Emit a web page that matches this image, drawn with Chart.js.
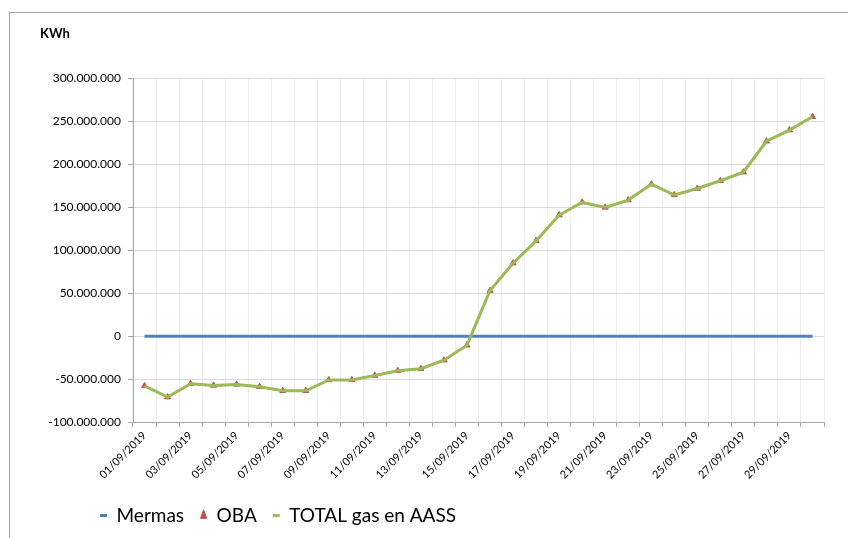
<!DOCTYPE html>
<html>
<head>
<meta charset="utf-8">
<script src="https://cdn.jsdelivr.net/npm/chart.js@4/dist/chart.umd.min.js"></script>
<style>
  html, body { margin: 0; padding: 0; background: #fff; }
  #wrap { position: relative; width: 848px; height: 538px; overflow: hidden; }
  #frame { position: absolute; left: 9px; top: 12px; width: 900px; height: 600px; border-left: 1px solid #a6a6a6; border-top: 1px solid #a6a6a6; }
  #chart { position: absolute; left: 0; top: 0; }
</style>
</head>
<body>
<div id="wrap">
  <div id="frame"></div>
  <canvas id="chart" width="848" height="538"></canvas>
</div>
<script>
// days of september 2019
const dates = ['01/09/2019','02/09/2019','03/09/2019','04/09/2019','05/09/2019','06/09/2019','07/09/2019','08/09/2019','09/09/2019','10/09/2019',
  '11/09/2019','12/09/2019','13/09/2019','14/09/2019','15/09/2019','16/09/2019','17/09/2019','18/09/2019','19/09/2019','20/09/2019',
  '21/09/2019','22/09/2019','23/09/2019','24/09/2019','25/09/2019','26/09/2019','27/09/2019','28/09/2019','29/09/2019','30/09/2019'];

const mermas = [0,0,0,0,0,0,0,0,0,0, 0,0,0,0,0,0,0,0,0,0, 0,0,0,0,0,0,0,0,0,0];

const oba = [-58000000,-71000000,-55500000,-57400000,-56200000,-59000000,-63600000,-63600000,-51000000,-51000000,
  -45800000,-40300000,-38000000,-28000000,-10500000,53000000,85000000,111000000,141000000,156000000,
  150000000,158500000,177000000,164500000,172000000,181000000,191000000,227000000,240000000,255500000];

const totalAass = [-58000000,-71000000,-55500000,-57400000,-56200000,-59000000,-63600000,-63600000,-51000000,-51000000,
  -45800000,-40300000,-38000000,-28000000,-10500000,53000000,85000000,111000000,141000000,156000000,
  150000000,158500000,177000000,164500000,172000000,181000000,191000000,227000000,240000000,255500000];

const yMin = -100000000;
const yMax = 300000000;
const yStep = 50000000;

function formatNum(v) {
    let s = Math.abs(v).toString().replace(/\B(?=(\d{3})+(?!\d))/g, '.');
    return (v < 0 ? '-' : '') + s;
}

// move legend to the right a bit, like excel does
const shiftLegend = {
    id: 'shiftLegend',
    afterLayout(chart) {
        chart.legend.left += 44;
        chart.legend.right += 44;
    }
};

const ctx = document.getElementById('chart').getContext('2d');
const chart = new Chart(ctx, {
    type: 'line',
    data: {
        labels: dates,
        datasets: [
            {
                label: 'Mermas',
                data: mermas,
                borderColor: '#4f81bd',
                backgroundColor: '#4f81bd',
                borderWidth: 3,
                pointRadius: 0,
                pointStyle: 'line',
                order: 3
            },
            {
                label: 'OBA',
                data: oba,
                borderColor: '#f0955a',
                backgroundColor: '#c0504d',
                borderWidth: 2,
                pointRadius: 3.5,
                pointStyle: 'triangle',
                pointBorderColor: '#c0504d',
                pointBackgroundColor: '#c0504d',
                pointBorderWidth: 1,
                order: 2
            },
            {
                label: 'TOTAL gas en AASS',
                data: totalAass,
                borderColor: '#9bbb59',
                backgroundColor: '#9bbb59',
                borderWidth: 3,
                pointRadius: 0,
                pointStyle: 'line',
                order: 1
            }
        ]
    },
    options: {
        responsive: false,
        animation: false,
        layout: {
            padding: { left: 40, right: 24, top: 0, bottom: 3 }
        },
        plugins: {
            title: {
                display: true,
                text: 'KWh',
                align: 'start',
                color: '#000',
                font: { family: 'Lato', size: 13, weight: 'bold' },
                padding: { top: 26, bottom: 37 }
            },
            legend: {
                position: 'bottom',
                align: 'start',
                labels: {
                    usePointStyle: true,
                    pointStyleWidth: 7,
                    boxHeight: 8,
                    padding: 16,
                    color: '#000',
                    font: { family: 'Lato', size: 19 },
                    sort: (a, b) => a.datasetIndex - b.datasetIndex
                }
            },
            tooltip: { enabled: false }
        },
        scales: {
            x: {
                offset: true,
                grid: {
                    offset: true,
                    color: '#eeeeee',
                    tickColor: '#a6a6a6',
                    tickLength: 5
                },
                border: { color: '#a6a6a6', width: 1 },
                ticks: {
                    autoSkip: false,
                    minRotation: 45,
                    maxRotation: 45,
                    color: '#000',
                    padding: 2,
                    font: { family: 'Lato', size: 11 },
                    callback: function (val, i) {
                        return i % 2 === 0 ? this.getLabelForValue(val) : '';
                    }
                },
                afterFit: function (scale) { scale.height = 68; }
            },
            y: {
                min: yMin,
                max: yMax,
                grid: {
                    color: '#d9d9d9',
                    tickColor: '#a6a6a6',
                    tickLength: 5
                },
                border: { color: '#a6a6a6', width: 1 },
                ticks: {
                    stepSize: yStep,
                    color: '#000',
                    padding: 7,
                    font: { family: 'Lato', size: 12 },
                    callback: function (v) { return formatNum(v); }
                },
                afterFit: function (scale) { scale.width = 93; }
            }
        }
    },
    plugins: [shiftLegend]
});
</script>
</body>
</html>
